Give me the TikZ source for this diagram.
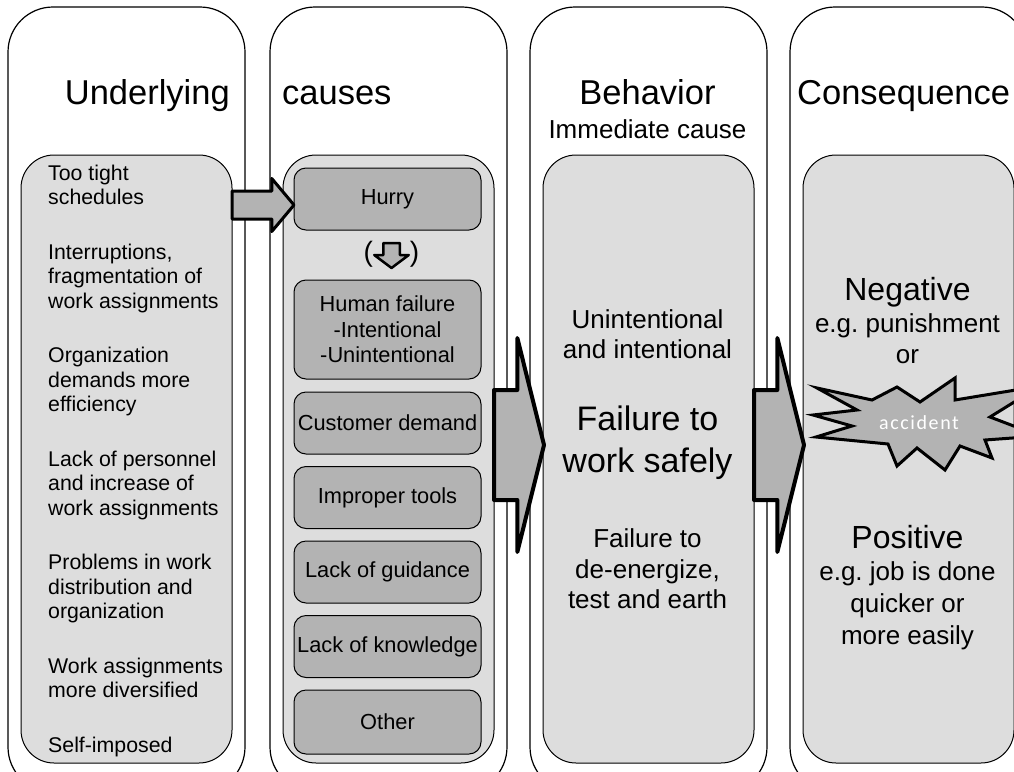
\documentclass[tikz,border=0pt]{standalone}
\usepackage{fontspec}
\setmainfont{Liberation Sans}
\newfontfamily\burstfont[LetterSpace=8]{Carlito}
\usetikzlibrary{positioning,calc,shapes.arrows}

\definecolor{panel}{HTML}{DDDDDD}
\definecolor{tile}{HTML}{B3B3B3}
\newcommand{\fsz}[2]{\fontsize{#1}{#2}\selectfont}

\begin{document}
\frenchspacing
\begin{tikzpicture}[x=1pt,y=-1pt,
	colbox/.style={draw,fill=white,line width=1.2pt,rounded corners=45pt,minimum width=237pt,minimum height=785pt,inner sep=0pt,outer sep=0pt},
	panelbox/.style={draw,fill=panel,line width=1pt,rounded corners=33pt,minimum width=211pt,minimum height=608pt,inner sep=0pt,outer sep=0pt},
	tilebox/.style={draw,fill=tile,line width=1pt,rounded corners=12pt,minimum width=187pt,minimum height=62pt,inner sep=0pt,outer sep=0pt,align=center,font=\fsz{21.8}{25.5}},
	head/.style={font=\fsz{34.5}{40},inner sep=0pt},
	listtext/.style={font=\fsz{21.3}{25},inner sep=0pt},
	blockarrow/.style={single arrow,draw,fill=tile,line width=3pt,line join=round,inner xsep=0pt,outer sep=0pt},
	smallarrow/.style={blockarrow,minimum height=62pt,inner ysep=12.5pt,single arrow head extend=12.5pt,single arrow tip angle=100},
	bigarrow/.style={blockarrow,line width=4pt,minimum height=50pt,inner ysep=53pt,single arrow head extend=52pt,single arrow tip angle=152},
	downarrow/.style={blockarrow,line width=2.5pt,rotate=-90,minimum height=25pt,inner ysep=7pt,single arrow head extend=9pt,single arrow tip angle=106},
	burst/.style={draw,fill=tile,line width=3pt}
	]
	\useasboundingbox (0,0) rectangle (1014,771);
	\clip (0,0) rectangle (1014,771);

	% four columns
	\foreach \i/\x in {1/8,2/270,3/530,4/790}{
		\node[colbox,anchor=north west] (col\i) at (\x,7) {};
		\node[panelbox,anchor=north west] (pan\i) at (\x+13,155) {};
	}

	% headings
	\node[head,anchor=base east] (hUnder) at (230,104) {Underlying};
	\node[head,anchor=base west] (hCause) at (282,104) {causes};
	\node[head,anchor=base] (hBehav) at (647.5,104) {Behavior};
	\node[font=\fsz{26}{30},inner sep=0pt,anchor=base] (hImmed) at (647.5,138) {Immediate cause};
	\node[head,anchor=base west] (hConseq) at (797,104) {Consequence};

	% underlying causes
	\foreach \y/\t [count=\k] in {180/Too tight, 204.5/schedules, 259/{Interruptions,}, 283.5/fragmentation of, 308/work assignments, 362.5/Organization, 387/demands more, 411.5/efficiency, 466/Lack of personnel, 490.5/and increase of, 515/work assignments, 569.5/Problems in work, 594/distribution and, 618.5/organization, 673/Work assignments, 697.5/more diversified, 752/Self-imposed}
		\node[listtext,anchor=base west] (why\k) at (48,\y) {\t};

	% causes
	\node[tilebox] (hurry) at (387.5,199) {Hurry};
	\node[tilebox,minimum height=99pt] (human) at (387.5,329.5) {Human failure\\-Intentional\\-Unintentional};
	\node[tilebox,below=13pt of human] (customer) {Customer demand};
	\node[tilebox,below=12.5pt of customer] (tools) {Improper tools};
	\node[tilebox,below=12.5pt of tools] (guidance) {Lack of guidance};
	\node[tilebox,below=12.5pt of guidance] (knowledge) {Lack of knowledge};
	\node[tilebox,below=12.5pt of knowledge,minimum height=64pt] (other) {Other};

	\node[font=\fsz{28}{30},inner sep=0pt] (paren) at (391.5,254) {(\hspace{37pt})};
	\node[downarrow,anchor=tip] (hurryDown) at ([xshift=4pt,yshift=12pt]human.north) {};
	\node[smallarrow,anchor=tip] (toHurry) at ([yshift=-6pt]hurry.west) {};

	% big arrows
	\node[bigarrow,anchor=tail] (toBehav) at ([yshift=14pt]pan2.east) {};
	\node[bigarrow,anchor=tail] (toConseq) at ([yshift=14pt]pan3.east) {};

	% behavior
	\foreach \y/\s/\t [count=\k] in {328/26/Unintentional, 358/26/and intentional, 430/34/Failure to, 472/34/work safely, 547/26/Failure to, 578/26/{de-energize,}, 608/26/test and earth}
		\node[anchor=base,inner sep=0pt,font=\fsz{\s}{\s}] (act\k) at (647.5,\y) {\t};

	% consequence
	\foreach \y/\s/\t [count=\k] in {300/32/Negative, 332/26/e.g. punishment, 363/26/or, 548/32/Positive, 580/26/e.g. job is done, 612/26/quicker or, 644/26/more easily}
		\node[anchor=base,inner sep=0pt,font=\fsz{\s}{\s}] (res\k) at (907.5,\y) {\t};

	\coordinate (boom) at (919,423);
	\draw[burst,shift={(boom)}] (-106,-8) -- (-62,-13) -- (-102,-35) -- (-47,-23) -- (-22,-36) -- (1,-21) -- (36,-45) -- (36,-23) -- (121,-37) -- (71,-6) -- (121,13) -- (66,17) -- (73,35) -- (41,23) -- (26,47) -- (-2,25) -- (-22,43) -- (-31,21) -- (-103,14) -- (-67,3) -- cycle;
	\node[text=white,inner sep=0pt,font=\burstfont\fsz{20}{22}] (acc) at (boom) {accident};
\end{tikzpicture}
\end{document}
